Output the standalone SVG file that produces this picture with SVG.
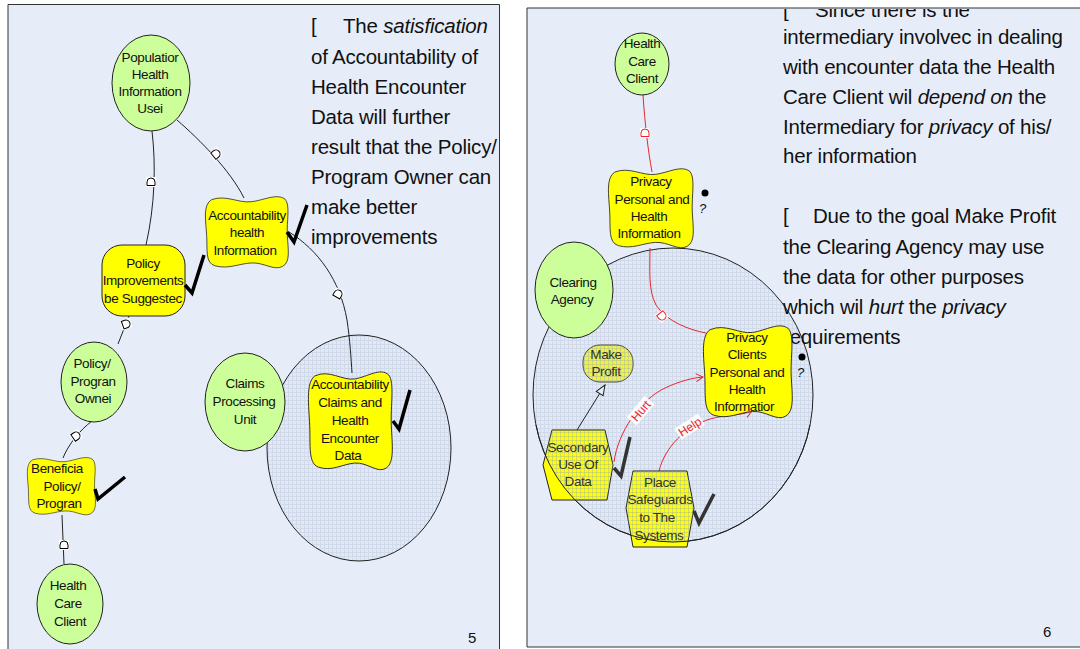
<svg xmlns="http://www.w3.org/2000/svg" xmlns:xlink="http://www.w3.org/1999/xlink" width="1080" height="649" viewBox="0 0 1080 649">
  <style>
    .panel { fill: #E7EDF8; stroke: #333; stroke-width: 1; }
    .soft { fill: #CCFF99; stroke: #222; stroke-width: 1; }
    .goal { fill: #FFFF00; stroke: #222; stroke-width: 1; }
    .blob { fill: #FFFF00; stroke: #222; stroke-width: 1; vector-effect: non-scaling-stroke; }
    .bound { fill: url(#grid); stroke: #222; stroke-width: 1; }
    .lbl { font-family: "Liberation Sans", Arial, sans-serif; font-size: 13.5px; fill: #111; text-anchor: middle; letter-spacing: -0.4px; }
    .lbl2 { font-family: "Liberation Sans", Arial, sans-serif; font-size: 13.5px; fill: #333; text-anchor: middle; letter-spacing: -0.4px; }
    .note { font-family: "Liberation Sans", Arial, sans-serif; font-size: 20.5px; fill: #111; letter-spacing: -0.2px; white-space: pre; }
    .page { font-family: "Liberation Sans", Arial, sans-serif; font-size: 15px; fill: #111; }
    .link { fill: none; stroke: #222; stroke-width: 1; }
    .red { fill: none; stroke: #E8262A; stroke-width: 1; }
    .tick { fill: none; stroke: #000; stroke-width: 3.5; }
    .tick2 { fill: none; stroke: #333; stroke-width: 3.5; }
    .rl { font-family: "Liberation Sans", Arial, sans-serif; font-size: 12px; fill: #E8262A; text-anchor: middle; }
    .q { font-family: "Liberation Sans", Arial, sans-serif; font-size: 13px; font-style: italic; fill: #111; }
  </style>
  <defs>
    <pattern id="grid" width="4" height="4" patternUnits="userSpaceOnUse">
      <rect width="4" height="4" fill="#E1E9F5"/>
      <path d="M0,0.5 H4 M0.5,0 V4" stroke="#D0DAEB" stroke-width="1"/>
    </pattern>
    <pattern id="gridLines" width="4" height="4" patternUnits="userSpaceOnUse">
      <path d="M0,0.5 H4 M0.5,0 V4" stroke="#8FA6C8" stroke-width="1" stroke-opacity="0.35"/>
    </pattern>
    <clipPath id="clipRB">
      <ellipse cx="673" cy="395" rx="140" ry="147"/>
    </clipPath>
    <clipPath id="clipLow">
      <rect x="527" y="425" width="300" height="130"/>
    </clipPath>
    <clipPath id="clipTop">
      <rect x="760" y="9" width="320" height="30"/>
    </clipPath>
    <g id="dmark">
      <rect x="-5" y="-5" width="10" height="10" fill="#fff"/>
      <path d="M-3.5,-4 H0 A4,4 0 0 1 0,4 H-3.5 Z" fill="#fff" stroke="currentColor" stroke-width="1"/>
    </g>
    <path id="blobShape" d="M8,5 C25,-2 40,10 55,8 C70,6 85,-4 95,4 C102,12 97,35 98,55 C99,75 102,92 92,98 C82,104 70,92 55,93 C40,94 28,102 12,97 C0,93 3,75 2,55 C1,35 -3,12 8,5 Z"/>
    <marker id="hollowTri" markerWidth="12" markerHeight="10" refX="11" refY="5" orient="auto" markerUnits="userSpaceOnUse">
      <path d="M1,1 L11,5 L1,9 Z" fill="#E7EDF8" stroke="#222" stroke-width="1"/>
    </marker>
    <marker id="redV" markerWidth="10" markerHeight="10" refX="8" refY="5" orient="auto" markerUnits="userSpaceOnUse">
      <path d="M1,1 L8,5 L1,9" fill="none" stroke="#E8262A" stroke-width="1"/>
    </marker>
  </defs>

  <rect width="1080" height="649" fill="#fff"/>

  <!-- ===== left slide ===== -->
  <g id="slide-left">
    <path class="panel" d="M8,660 V4.5 H499.5 V660"/>
    <ellipse id="boundary-left" class="bound" cx="359" cy="448" rx="92" ry="113"/>

    <g id="note-left" class="note">
      <text x="311" y="33">[</text>
      <text x="343" y="33">The <tspan font-style="italic">satisfication</tspan></text>
      <text x="311" y="64">of Accountability of</text>
      <text x="311" y="94">Health Encounter</text>
      <text x="311" y="124">Data will further</text>
      <text x="311" y="154">result that the Policy/</text>
      <text x="311" y="184">Program Owner can</text>
      <text x="311" y="214">make better</text>
      <text x="311" y="244">improvements</text>
    </g>

    <g id="links-left">
      <path class="link" d="M152,131 C156,165 155,205 146,245"/>
      <path class="link" d="M177,120 C200,140 230,170 244,198"/>
      <path class="link" d="M289,232 C318,250 340,280 347,320 C350,340 351,358 352,373"/>
      <path class="link" d="M129,316 L118,344"/>
      <path class="link" d="M92,421 C80,430 68,445 63,458"/>
      <path class="link" d="M62,515 L64,564"/>
      <use xlink:href="#dmark" href="#dmark" color="#000" transform="translate(151,182) rotate(-90)"/>
      <use xlink:href="#dmark" href="#dmark" color="#000" transform="translate(216,154) rotate(-40)"/>
      <use xlink:href="#dmark" href="#dmark" color="#000" transform="translate(338,294) rotate(-60)"/>
      <use xlink:href="#dmark" href="#dmark" color="#000" transform="translate(126,324) rotate(-20)"/>
      <use xlink:href="#dmark" href="#dmark" color="#000" transform="translate(76,436) rotate(-35)"/>
      <use xlink:href="#dmark" href="#dmark" color="#000" transform="translate(64,545) rotate(-90)"/>
    </g>

    <g id="population-health-information-user">
      <ellipse class="soft" cx="151" cy="83" rx="39" ry="48"/>
      <text class="lbl" x="150" y="62">Populatior</text>
      <text class="lbl" x="150" y="79">Health</text>
      <text class="lbl" x="150" y="96">Information</text>
      <text class="lbl" x="150" y="113">Usei</text>
    </g>

    <g id="accountability-health-information">
      <use xlink:href="#blobShape" href="#blobShape" class="blob" transform="translate(205,196) scale(0.84,0.72)"/>
      <text class="lbl" x="247" y="220">Accountability</text>
      <text class="lbl" x="247" y="237">health</text>
      <text class="lbl" x="245" y="255">Information</text>
      <polyline class="tick" points="287,232 294,242 307,205"/>
    </g>

    <g id="policy-improvements">
      <rect class="goal" x="102" y="245" width="83" height="71" rx="20"/>
      <text class="lbl" x="143" y="268">Policy</text>
      <text class="lbl" x="143" y="285">Improvements</text>
      <text class="lbl" x="143" y="303">be Suggestec</text>
      <polyline class="tick" points="185,285 192,293 204,255"/>
    </g>

    <g id="policy-program-owner">
      <ellipse class="soft" cx="94" cy="382" rx="33" ry="40"/>
      <text class="lbl" x="92" y="368">Policy/</text>
      <text class="lbl" x="93" y="386">Progran</text>
      <text class="lbl" x="93" y="403">Ownei</text>
    </g>

    <g id="beneficiary-policy-program">
      <use xlink:href="#blobShape" href="#blobShape" class="blob" transform="translate(27,457) scale(0.69,0.58)"/>
      <text class="lbl" x="57" y="473">Beneficia</text>
      <text class="lbl" x="62" y="491">Policy/</text>
      <text class="lbl" x="59" y="508">Progran</text>
      <polyline class="tick" points="95,489 98,499 125,477"/>
    </g>

    <g id="health-care-client-left">
      <ellipse class="soft" cx="70" cy="604" rx="33" ry="40"/>
      <text class="lbl" x="68" y="590">Health</text>
      <text class="lbl" x="68" y="608">Care</text>
      <text class="lbl" x="70" y="626">Client</text>
    </g>

    <g id="claims-processing-unit">
      <ellipse class="soft" cx="245" cy="402" rx="40" ry="49"/>
      <text class="lbl" x="245" y="388">Claims</text>
      <text class="lbl" x="244" y="406">Processing</text>
      <text class="lbl" x="245" y="424">Unit</text>
    </g>

    <g id="accountability-claims-data">
      <use xlink:href="#blobShape" href="#blobShape" class="blob" transform="translate(308,371) scale(0.85,0.99)"/>
      <text class="lbl" x="350" y="389">Accountability</text>
      <text class="lbl" x="350" y="407">Claims and</text>
      <text class="lbl" x="350" y="425">Health</text>
      <text class="lbl" x="350" y="443">Encounter</text>
      <text class="lbl" x="348" y="460">Data</text>
      <polyline class="tick" points="393,421 399,429 410,390"/>
    </g>

    <text class="page" x="468" y="643">5</text>
  </g>

  <!-- ===== right slide ===== -->
  <g id="slide-right">
    <path class="panel" d="M1090,8 H527 V647 H1090"/>
    <ellipse id="boundary-right" class="bound" cx="673" cy="395" rx="140" ry="147"/>

    <g id="note-right" class="note">
      <g clip-path="url(#clipTop)">
        <text x="783" y="17">[</text>
        <text x="815" y="17">Since there is the</text>
      </g>
      <text x="783" y="44">intermediary involvec in dealing</text>
      <text x="783" y="74">with encounter data  the Health</text>
      <text x="783" y="104">Care Client wil  <tspan font-style="italic">depend on</tspan> the</text>
      <text x="783" y="134">Intermediary for <tspan font-style="italic">privacy</tspan> of his/</text>
      <text x="783" y="163">her information</text>
      <text x="783" y="223">[</text>
      <text x="813" y="223">Due to the goal  Make Profit</text>
      <text x="783" y="254">the Clearing Agency may use</text>
      <text x="783" y="284">the data for other purposes</text>
      <text x="783" y="314">which wil  <tspan font-style="italic">hurt</tspan> the <tspan font-style="italic">privacy</tspan></text>
      <text x="783" y="344">requirements</text>
    </g>

    <g id="links-right">
      <path class="red" d="M643,95 C645,125 648,150 652,172"/>
      <path class="red" d="M650,248 C650,270 648,290 656,305 C667,322 690,330 706,333"/>
      <path class="link" d="M577,430 L605,385" marker-end="url(#hollowTri)"/>
      <path class="red" d="M614,462 C618,432 640,400 665,388 C680,381 692,378 703,377" marker-end="url(#redV)"/>
      <path class="red" d="M659,471 C665,447 685,427 710,419 C728,414 740,416 752,411" marker-end="url(#redV)"/>
      <use xlink:href="#dmark" href="#dmark" color="#E8262A" transform="translate(645,133) rotate(-90)"/>
      <use xlink:href="#dmark" href="#dmark" color="#E8262A" transform="translate(662,316) rotate(50)"/>
      <g transform="translate(641,411) rotate(-50)">
        <rect x="-14" y="-7" width="28" height="13" fill="#fff" fill-opacity="0.85"/>
        <text class="rl" x="0" y="4">Hurt</text>
      </g>
      <g transform="translate(690,427) rotate(-33)">
        <rect x="-14" y="-7" width="28" height="13" fill="#fff" fill-opacity="0.85"/>
        <text class="rl" x="0" y="4">Help</text>
      </g>
    </g>

    <g id="health-care-client-right">
      <ellipse class="soft" cx="642" cy="64" rx="27" ry="31"/>
      <text class="lbl" x="642" y="48">Health</text>
      <text class="lbl" x="642" y="66">Care</text>
      <text class="lbl" x="642" y="83">Client</text>
    </g>

    <g id="privacy-personal-health-information">
      <use xlink:href="#blobShape" href="#blobShape" class="blob" transform="translate(608,168) scale(0.86,0.80)"/>
      <text class="lbl" x="651" y="186">Privacy</text>
      <text class="lbl" x="652" y="204">Personal and</text>
      <text class="lbl" x="649" y="221">Health</text>
      <text class="lbl" x="649" y="238">Information</text>
      <circle cx="705" cy="193" r="3.5" fill="#000"/>
      <text class="q" x="699" y="213">?</text>
    </g>

    <g id="clearing-agency">
      <ellipse class="soft" cx="574" cy="290" rx="39" ry="48"/>
      <text class="lbl" x="573" y="287">Clearing</text>
      <text class="lbl" x="572" y="304">Agency</text>
    </g>

    <g id="make-profit">
      <rect x="583" y="345" width="50" height="37" rx="17" fill="#F2F23C" stroke="#444"/>
      <rect x="583" y="345" width="50" height="37" rx="17" fill="url(#gridLines)"/>
      <text class="lbl2" x="606" y="359">Make</text>
      <text class="lbl2" x="606" y="376">Profit</text>
    </g>

    <g id="secondary-use-of-data">
      <polygon class="goal" points="552,430 605,430 613,465 607,500 552,500 543,465"/>
      <polygon points="552,430 605,430 613,465 607,500 552,500 543,465" fill="url(#gridLines)" clip-path="url(#clipRB)"/>
      <text class="lbl2" x="578" y="452">Secondary</text>
      <text class="lbl2" x="578" y="469">Use Of</text>
      <text class="lbl2" x="578" y="486">Data</text>
      <polyline class="tick2" points="614,468 621,476 630,437"/>
    </g>

    <g id="place-safeguards">
      <polygon class="goal" points="633,471 687,471 694,508 687,547 633,547 626,508"/>
      <polygon points="633,471 687,471 694,508 687,547 633,547 626,508" fill="url(#gridLines)" clip-path="url(#clipRB)"/>
      <text class="lbl2" x="660" y="487">Place</text>
      <text class="lbl2" x="660" y="504">Safeguards</text>
      <text class="lbl2" x="657" y="522">to The</text>
      <text class="lbl2" x="659" y="540">Systems</text>
      <polyline class="tick2" points="694,511 699,523 714,494"/>
    </g>

    <!-- boundary outline passes over the lower goals -->
    <ellipse cx="673" cy="395" rx="140" ry="147" fill="none" stroke="#222" stroke-width="1" clip-path="url(#clipLow)"/>

    <g id="privacy-clients-personal-health-information">
      <use xlink:href="#blobShape" href="#blobShape" class="blob" transform="translate(703,325) scale(0.90,0.93)"/>
      <text class="lbl" x="747" y="342">Privacy</text>
      <text class="lbl" x="747" y="359">Clients</text>
      <text class="lbl" x="747" y="377">Personal and</text>
      <text class="lbl" x="747" y="394">Health</text>
      <text class="lbl" x="744" y="411">Informatior</text>
      <circle cx="802" cy="357" r="3.5" fill="#000"/>
      <text class="q" x="797" y="377">?</text>
    </g>

    <text class="page" x="1043" y="637">6</text>
  </g>
</svg>
